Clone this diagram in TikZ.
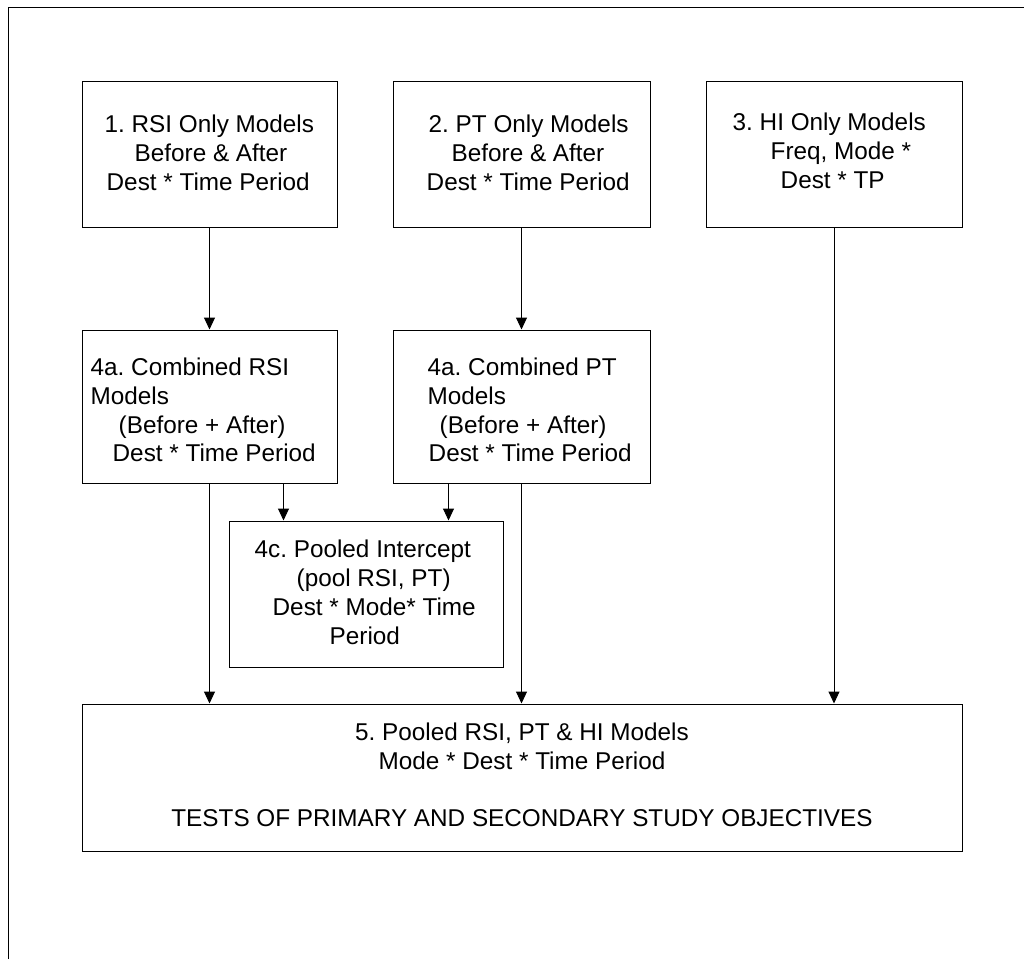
\documentclass[tikz,border=0pt]{standalone}
\usepackage{fontspec}
\setmainfont{Liberation Sans}
\usetikzlibrary{arrows.meta,calc}
\frenchspacing
\begin{document}
\begin{tikzpicture}[x=1pt,y=-1pt,
  box/.style={draw=black,line width=1pt,inner sep=0pt},
  txt/.style={font=\fontsize{24.3}{28.8}\selectfont\frenchspacing,align=left,inner sep=0pt,anchor=west},
  ctxt/.style={font=\fontsize{24.3}{28.8}\selectfont\frenchspacing,align=center,inner sep=0pt},
  arr/.style={line width=1pt,-{Triangle[width=11pt,length=12pt]}},
  frame/.style={line width=1pt}]
\useasboundingbox (0,0) rectangle (1024,959);
\draw[frame] (8,959) -- (8,7) -- (1024,7);

% boxes
\node[box,minimum width=255pt,minimum height=146pt] (b1) at (209.5,154) {};
\node[box,minimum width=257pt,minimum height=146pt] (b2) at (521.5,154) {};
\node[box,minimum width=256pt,minimum height=146pt] (b3) at (834,154) {};
\node[box,minimum width=255pt,minimum height=153pt] (r4a) at (209.5,406.5) {};
\node[box,minimum width=257pt,minimum height=153pt] (p4a) at (521.5,406.5) {};
\node[box,minimum width=274pt,minimum height=146pt] (c4) at (366,594) {};
\node[box,minimum width=880pt,minimum height=147pt] (b5) at (522,777.5) {};

% texts
\node[txt] (t1) at ($(b1.west)+(23,-1)$) {1. RSI Only Models\\\hspace*{30pt}Before \& After\\\hspace*{2pt}Dest * Time Period};
\node[txt] (t2) at ($(b2.west)+(34,-1)$) {\hspace*{2pt}2. PT Only Models\\\hspace*{25pt}Before \& After\\Dest * Time Period};
\node[txt] (t3) at ($(b3.west)+(27,-3)$) {3. HI Only Models\\\hspace*{38pt}Freq, Mode *\\\hspace*{48pt}Dest * TP};
\node[txt] (t4) at ($(r4a.west)+(9,3.5)$) {4a. Combined RSI\\Models\\\hspace*{28pt}(Before + After)\\\hspace*{22pt}Dest * Time Period};
\node[txt] (t5) at ($(p4a.west)+(35,3.5)$) {4a. Combined PT\\Models\\\hspace*{12pt}(Before + After)\\\hspace*{1pt}Dest * Time Period};
\node[txt] (t6) at ($(c4.west)+(26,-1.6)$) {4c. Pooled Intercept\\\hspace*{42pt}(pool RSI, PT)\\\hspace*{18pt}Dest * Mode* Time\\\hspace*{75pt}Period};
\node[ctxt] (t7) at ($(b5.center)+(0,-2.8)$) {5. Pooled RSI, PT \& HI Models\\Mode * Dest * Time Period\\[28.8pt]TESTS OF PRIMARY AND SECONDARY STUDY OBJECTIVES};

% connectors
\coordinate (cl) at ($(c4.north west)+(55,0)$);
\coordinate (cr) at ($(c4.north east)+(-55,0)$);
\draw[arr] (b1) -- (r4a);
\draw[arr] (b2) -- (p4a);
\draw[arr] (b3.south) -- (b3.south |- b5.north);
\draw[arr] (cl |- r4a.south) -- (cl);
\draw[arr] (cr |- p4a.south) -- (cr);
\draw[arr] (r4a.south) -- (r4a.south |- b5.north);
\draw[arr] (p4a.south) -- (p4a.south |- b5.north);
\end{tikzpicture}
\end{document}
